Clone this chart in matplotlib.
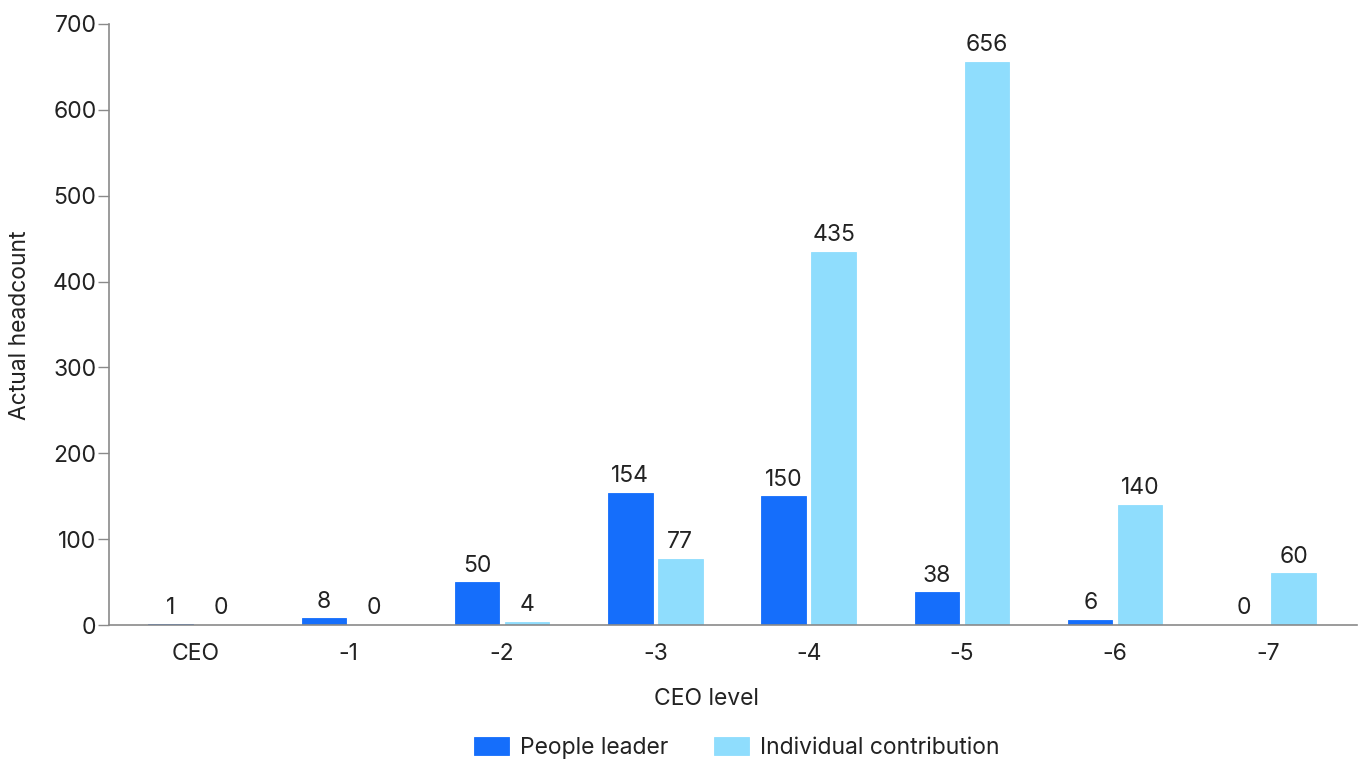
import matplotlib
matplotlib.use('Agg')
import matplotlib.pyplot as plt
import numpy as np

plt.rcParams['font.family'] = ['Inter', 'DejaVu Sans']

# headcount per level below the CEO
levels = ['CEO', '-1', '-2', '-3', '-4', '-5', '-6', '-7']
people_leader = [1, 8, 50, 154, 150, 38, 6, 0]
individual = [0, 0, 4, 77, 435, 656, 140, 60]

blue = '#156efb'
light = '#8fddfd'
txt = '#222222'
grey = '#8a8a8a'
fs = 16.5

fig = plt.figure(figsize=(13.62, 7.62), dpi=100)
ax = fig.add_axes([109/1362, 137/762, 1248/1362, 601/762])

x = np.arange(len(levels))
w = 0.29
off = 0.163

b1 = ax.bar(x - off, people_leader, w, color=blue, edgecolor=blue,
            linewidth=0.6, label='People leader')
b2 = ax.bar(x + off, individual, w, color=light, edgecolor=light,
            linewidth=0.6, label='Individual contribution')

# value labels on top of each bar
for bars in (b1, b2):
    for r in bars:
        ax.annotate(str(int(r.get_height())),
                    (r.get_x() + r.get_width()/2, r.get_height()),
                    xytext=(0, 4), textcoords='offset points',
                    ha='center', va='bottom', fontsize=fs, color=txt)

ax.set_xlim(-0.564, 7.577)
ax.set_ylim(0, 700)
ax.set_yticks(range(0, 701, 100))
ax.set_xticks(x)
ax.set_xticklabels(levels)

for s in ['top', 'right']:
    ax.spines[s].set_visible(False)
for s in ['left', 'bottom']:
    ax.spines[s].set_color(grey)
    ax.spines[s].set_linewidth(1.2)

ax.tick_params(axis='y', length=8, width=1, color=grey, pad=1,
               labelsize=fs, labelcolor=txt)
ax.tick_params(axis='x', length=0, pad=13, labelsize=fs, labelcolor=txt)

fig.text(20/1362, 1 - 325/762, 'Actual headcount', rotation=90,
         ha='center', va='center', fontsize=fs, color=txt)
fig.text(706/1362, 1 - 699/762, 'CEO level', ha='center', va='center',
         fontsize=fs, color=txt)

fig.legend(handles=[b1, b2], loc='center', bbox_to_anchor=(737/1362, 1 - 748/762),
           ncol=2, frameon=False, fontsize=fs, handlelength=1.5,
           handleheight=0.8, handletextpad=0.5, columnspacing=2.0,
           labelcolor=txt)

fig.savefig('out.png', dpi=100)
